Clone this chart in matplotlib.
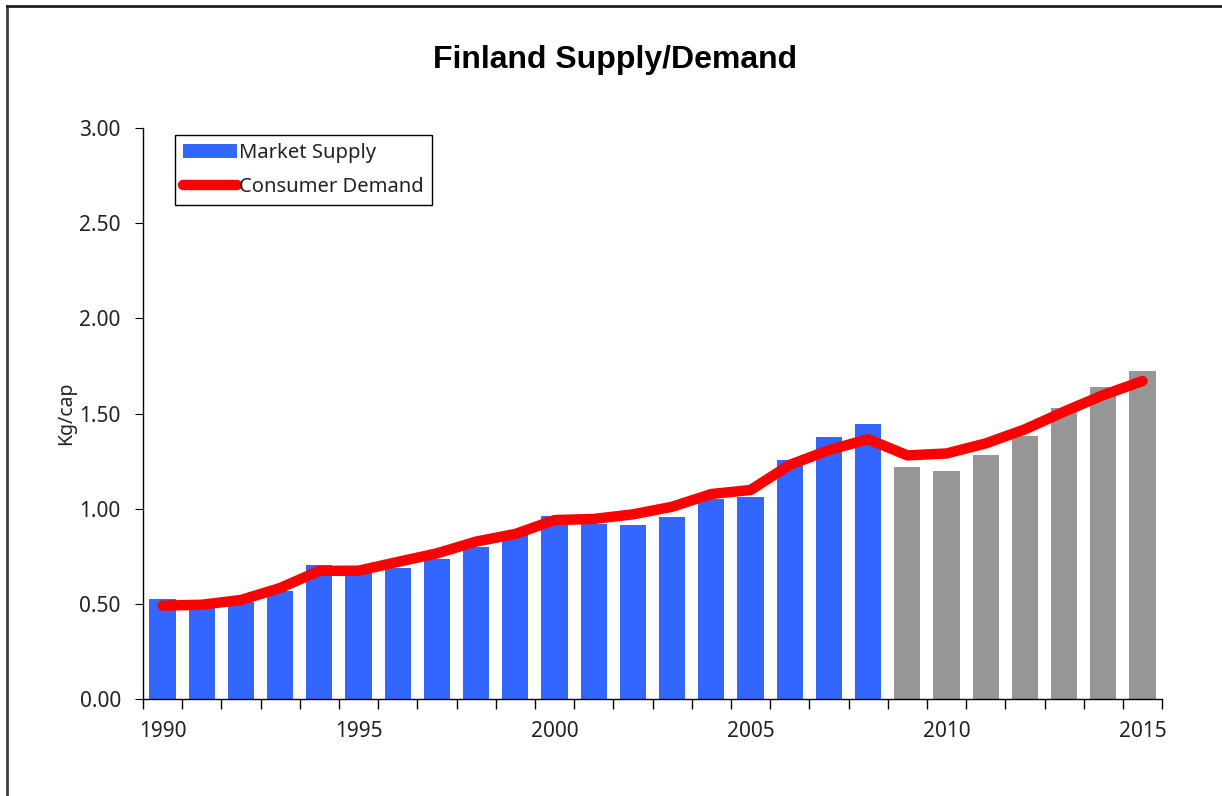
import matplotlib.pyplot as plt
import numpy as np
from matplotlib.lines import Line2D
from matplotlib.ticker import FormatStrFormatter

plt.rcParams['font.family'] = ['Noto Sans', 'DejaVu Sans']

years = list(range(1990, 2016))
last_actual = 2008
supply = [0.525, 0.48, 0.51, 0.567, 0.704, 0.665, 0.688, 0.736, 0.80, 0.862,
          0.962, 0.92, 0.914, 0.956, 1.051, 1.061, 1.256, 1.377, 1.445,
          1.219, 1.198, 1.282, 1.382, 1.529, 1.64, 1.724]
demand = [0.49, 0.495, 0.52, 0.583, 0.673, 0.674, 0.72, 0.765, 0.827, 0.867,
          0.94, 0.946, 0.97, 1.01, 1.077, 1.098, 1.23, 1.308, 1.365,
          1.28, 1.29, 1.343, 1.417, 1.51, 1.597, 1.671]

blue = '#3366FF'
grey = '#969696'
red = '#FF0000'

fig = plt.figure(figsize=(12.22, 7.96), dpi=100)
ax = fig.add_axes([0.117, 0.122, 0.834, 0.717])

x = np.arange(len(years))
bar_colors = [blue if y <= last_actual else grey for y in years]
bars = ax.bar(x, supply, width=0.67, color=bar_colors, label='Market Supply')
line, = ax.plot(x, demand, color=red, lw=7.5, solid_capstyle='round',
                solid_joinstyle='round', label='Consumer Demand')

ax.set_xlim(-0.5, len(years) - 0.5)
ax.set_ylim(0, 3)
ax.set_yticks(np.arange(0, 3.01, 0.5))
ax.yaxis.set_major_formatter(FormatStrFormatter('%.2f'))
ax.set_xticks(x[::5])
ax.set_xticklabels([str(y) for y in years[::5]])
ax.set_xticks(np.arange(-0.5, len(years), 1), minor=True)
ax.tick_params(axis='x', which='major', length=0, pad=16, labelsize=15,
               labelcolor='#222222')
ax.tick_params(axis='x', which='minor', length=7, direction='out', width=1)
ax.tick_params(axis='y', length=6, pad=10, labelsize=15, labelcolor='#222222')

for side in ['top', 'right']:
    ax.spines[side].set_visible(False)
for side in ['left', 'bottom']:
    ax.spines[side].set_linewidth(1)

ax.set_ylabel('Kg/cap', fontsize=14, labelpad=2, color='#222222')

leg = ax.legend([bars, line], ['Market Supply', 'Consumer Demand'],
                loc='upper left', bbox_to_anchor=(0.031, 0.988), fontsize=14.5,
                frameon=True, fancybox=False, edgecolor='black', framealpha=1,
                borderaxespad=0, handlelength=2.7, handletextpad=0.1,
                borderpad=0.4, labelspacing=0.7)
leg.get_frame().set_linewidth(1)
for t in leg.get_texts():
    t.set_color('#222222')

fig.text(0.503, 0.925, 'Finland Supply/Demand', ha='center', va='center',
         fontsize=23, fontweight='bold', family='Liberation Sans')

# outer chart frame (clipped at right and bottom)
fig.add_artist(Line2D([7 / 1222, 7 / 1222], [0, 1 - 6 / 796],
                      transform=fig.transFigure, color='#404040', lw=2))
fig.add_artist(Line2D([7 / 1222, 1], [1 - 6 / 796, 1 - 6 / 796],
                      transform=fig.transFigure, color='#202020', lw=2))

fig.savefig('out.png', dpi=100)
